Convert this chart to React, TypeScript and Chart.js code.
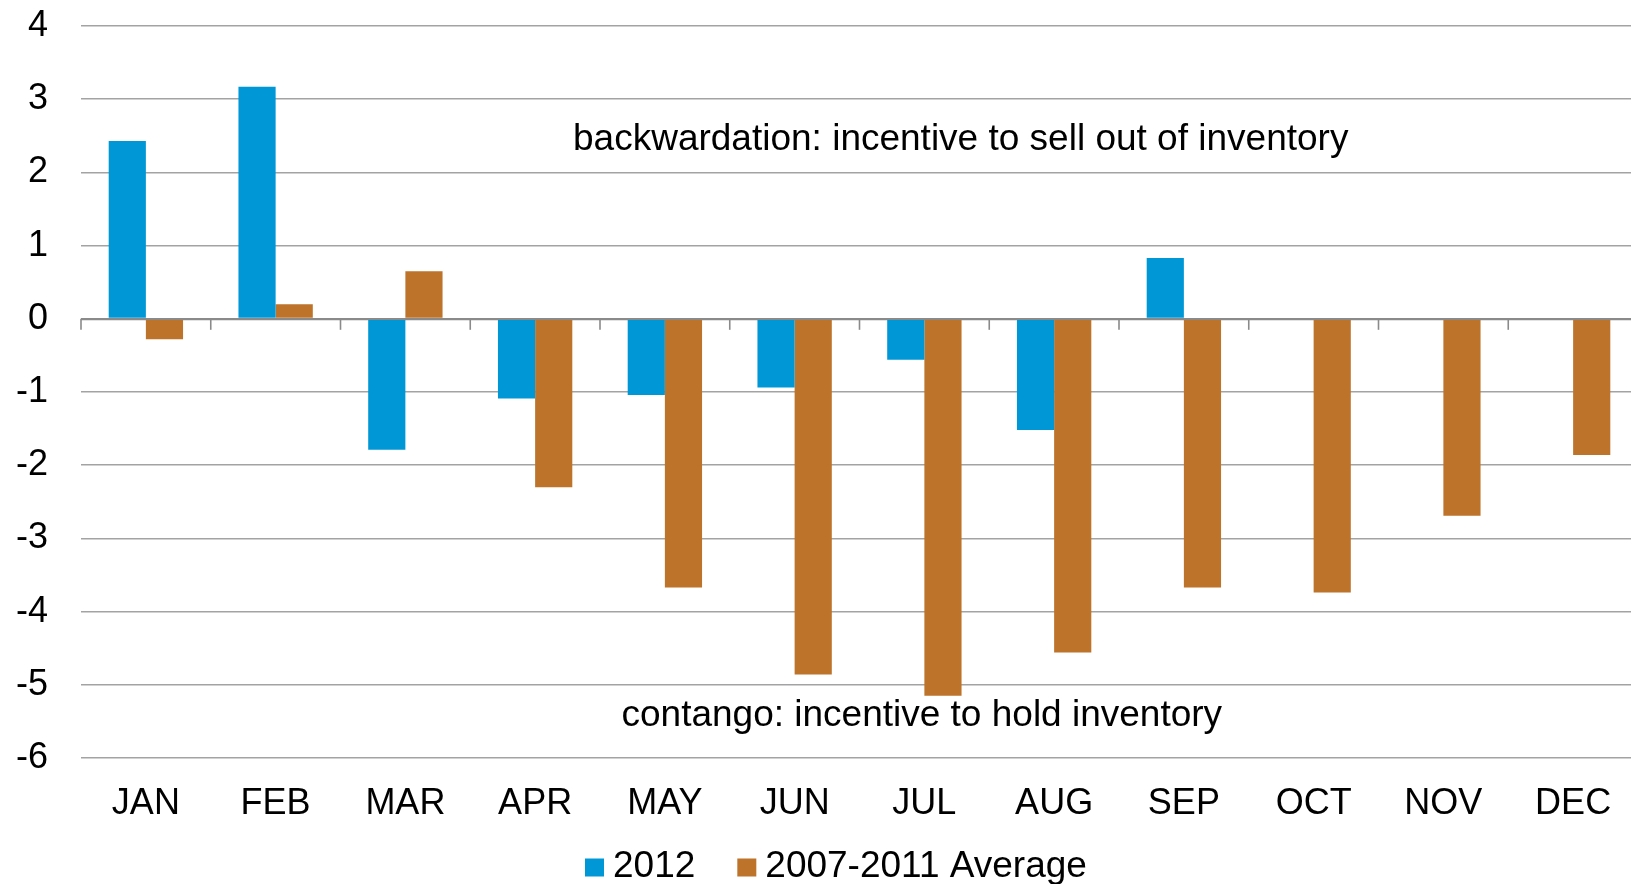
import React, { useEffect, useRef } from "react";
import { Chart, registerables } from "chart.js";

Chart.register(...registerables);

// ---- Data ----
const categories = ["JAN", "FEB", "MAR", "APR", "MAY", "JUN", "JUL", "AUG", "SEP", "OCT", "NOV", "DEC"];
const series2012: (number | null)[] = [2.43, 3.17, -1.79, -1.09, -1.04, -0.94, -0.56, -1.52, 0.83, null, null, null];
const seriesAvg: number[] = [-0.28, 0.2, 0.65, -2.3, -3.67, -4.86, -5.15, -4.56, -3.67, -3.74, -2.69, -1.86];
const seriesLabels = ["2012", "2007-2011 Average"];
const seriesColors = ["#0097D7", "#BD732A"];
const yMin = -6;
const yMax = 4;
const yStep = 1;
const annotationTexts = [
  "backwardation: incentive to sell out of inventory",
  "contango: incentive to hold inventory",
];
// anchor of each annotation: x in category units, y in value units (text baseline)
const annotationX = [6.28, 5.98];
const annotationY = [2.3, -5.56];

const FONT = '"Liberation Sans", Arial, Helvetica, sans-serif';
const FONT_SIZE = 36;

const overlayPlugin = {
  id: "overlay",
  beforeDatasetsDraw(chart: any) {
    const { ctx, scales } = chart;
    const x = scales.x;
    const y = scales.y;
    const y0 = y.getPixelForValue(0);
    ctx.save();
    ctx.strokeStyle = "#8a8a8a";
    ctx.lineWidth = 1.6;
    for (let i = 0; i <= categories.length; i++) {
      const px = x.getPixelForValue(i - 0.5);
      ctx.beginPath();
      ctx.moveTo(px, y0);
      ctx.lineTo(px, y0 + 11);
      ctx.stroke();
    }
    ctx.restore();
  },
  afterDraw(chart: any) {
    const { ctx, scales } = chart;
    const x = scales.x;
    const y = scales.y;
    ctx.save();
    // annotations
    ctx.fillStyle = "#000";
    ctx.font = `37px ${FONT}`;
    ctx.textAlign = "center";
    ctx.textBaseline = "alphabetic";
    annotationTexts.forEach((t, i) => {
      ctx.fillText(t, x.getPixelForValue(annotationX[i]), y.getPixelForValue(annotationY[i]));
    });
    // legend
    ctx.font = `37px ${FONT}`;
    ctx.textAlign = "left";
    let lx = 585;
    const boxTop = 858.5;
    const baseline = 877;
    seriesLabels.forEach((label, i) => {
      ctx.fillStyle = seriesColors[i];
      ctx.fillRect(lx, boxTop, 19, 18);
      ctx.fillStyle = "#000";
      ctx.fillText(label, lx + 28, baseline);
      lx += 28 + ctx.measureText(label).width + 42;
    });
    ctx.restore();
  },
};

export default function App() {
  const canvasRef = useRef<HTMLCanvasElement | null>(null);

  useEffect(() => {
    document.body.style.margin = "0";
    const canvas = canvasRef.current;
    if (!canvas) return;
    const chart = new Chart(canvas, {
      type: "bar",
      data: {
        labels: categories,
        datasets: [
          {
            label: seriesLabels[0],
            data: series2012,
            backgroundColor: seriesColors[0],
            categoryPercentage: 0.573,
            barPercentage: 1.0,
          },
          {
            label: seriesLabels[1],
            data: seriesAvg,
            backgroundColor: seriesColors[1],
            categoryPercentage: 0.573,
            barPercentage: 1.0,
          },
        ],
      },
      options: {
        responsive: false,
        animation: false,
        devicePixelRatio: 1,
        layout: { padding: { top: 26, right: 0, left: 0, bottom: 0 } },
        plugins: {
          legend: { display: false },
          tooltip: { enabled: false },
        },
        scales: {
          x: {
            offset: true,
            grid: { display: false },
            border: { display: false },
            ticks: {
              color: "#000",
              font: { family: FONT, size: FONT_SIZE },
              padding: 16,
              maxRotation: 0,
              autoSkip: false,
            },
            afterFit: (s: any) => {
              s.height = 126;
              s.paddingLeft = 0;
              s.paddingRight = 0;
            },
          },
          y: {
            min: yMin,
            max: yMax,
            ticks: {
              stepSize: yStep,
              color: "#000",
              font: { family: FONT, size: FONT_SIZE },
              padding: 33,
            },
            grid: {
              drawTicks: false,
              color: (c: any) => (c.tick && c.tick.value === 0 ? "#8a8a8a" : "#a3a3a3"),
              lineWidth: (c: any) => (c.tick && c.tick.value === 0 ? 2.2 : 1.5),
            },
            border: { display: false },
            afterFit: (s: any) => {
              s.width = 81;
              s.paddingTop = 0;
              s.paddingBottom = 0;
            },
          },
        },
      },
      plugins: [overlayPlugin],
    });
    return () => chart.destroy();
  }, []);

  return (
    <div style={{ width: 1631, height: 884, overflow: "hidden", background: "#fff" }}>
      <canvas ref={canvasRef} width={1638} height={884} style={{ display: "block" }} />
    </div>
  );
}
